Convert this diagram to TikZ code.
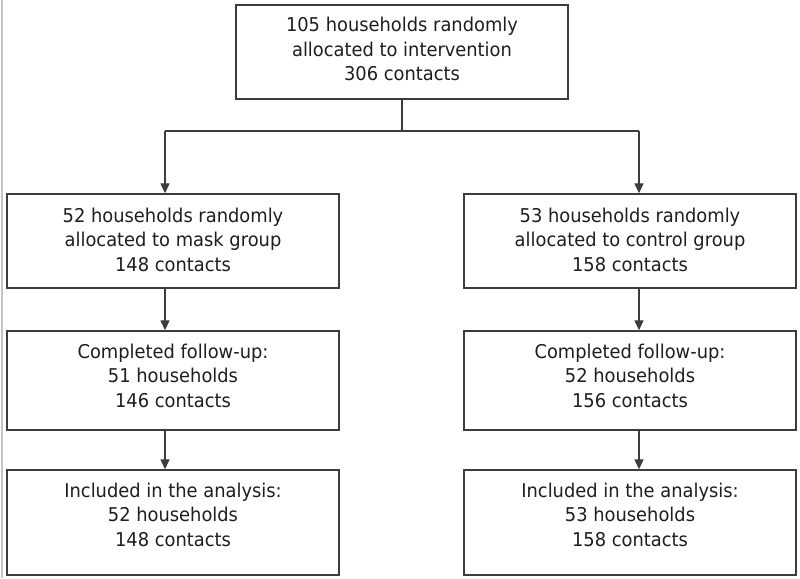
\documentclass[tikz,border=0pt]{standalone}
\usepackage{fontspec}
\setmainfont{DejaVu Sans}[FakeStretch=0.94]
\usetikzlibrary{arrows.meta}
\definecolor{boxline}{HTML}{3C3C3C}
\definecolor{txt}{HTML}{1E1E1E}
\newcommand{\topstrut}[1]{\rule{0pt}{#1pt}}
\newcommand{\botstrut}[1]{\rule[-#1pt]{0pt}{0pt}}
\begin{document}
\begin{tikzpicture}[x=1pt,y=-1pt,
  flowbox/.style={draw=boxline, line width=1.4pt, fill=white, minimum width=332pt,
    align=center, text=txt, font=\fontsize{19}{24.5}\selectfont, inner sep=0pt},
  conn/.style={draw=boxline, line width=1.3pt},
  arr/.style={conn, -{Triangle[width=9pt,length=10pt]}}]
\useasboundingbox (0,0) rectangle (800,578);
\fill[white] (0,0) rectangle (800,578);
\draw[gray!45, line width=2pt] (2,0) -- (2,578);

\node[flowbox, minimum height=94pt] (top) at (402,52)
  {\topstrut{27}105 households randomly\\allocated to intervention\\306 contacts\botstrut{18}};
\node[flowbox, minimum height=94pt] (l1) at (173,241)
  {\topstrut{28}52 households randomly\\allocated to mask group\\148 contacts\botstrut{17}};
\node[flowbox, minimum height=94pt] (r1) at (630,241)
  {\topstrut{28}53 households randomly\\allocated to control group\\158 contacts\botstrut{17}};
\node[flowbox, minimum height=99pt] (l2) at (173,380.5)
  {\topstrut{27}Completed follow-up:\\51 households\\146 contacts\botstrut{23}};
\node[flowbox, minimum height=99pt] (r2) at (630,380.5)
  {\topstrut{27}Completed follow-up:\\52 households\\156 contacts\botstrut{23}};
\node[flowbox, minimum height=105pt] (l3) at (173,522.5)
  {\topstrut{27}Included in the analysis:\\52 households\\148 contacts\botstrut{29}};
\node[flowbox, minimum height=105pt] (r3) at (630,522.5)
  {\topstrut{27}Included in the analysis:\\53 households\\158 contacts\botstrut{29}};

\coordinate (split) at (402,131);
\coordinate (splitL) at (165,131);
\coordinate (splitR) at (639,131);

\draw[conn] (top.south) -- (split);
\draw[conn] (splitL) -- (splitR);
\draw[arr] (splitL) -- (splitL |- l1.north);
\draw[arr] (splitR) -- (splitR |- r1.north);
\draw[arr] (splitL |- l1.south) -- (splitL |- l2.north);
\draw[arr] (splitR |- r1.south) -- (splitR |- r2.north);
\draw[arr] (splitL |- l2.south) -- (splitL |- l3.north);
\draw[arr] (splitR |- r2.south) -- (splitR |- r3.north);
\end{tikzpicture}
\end{document}
